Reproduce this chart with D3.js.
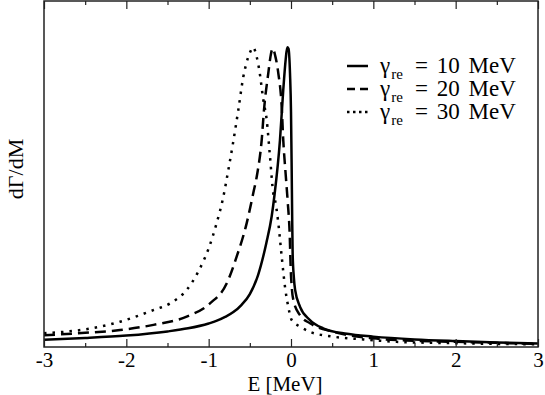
<!DOCTYPE html>
<html>
<head>
<meta charset="utf-8">
<script src="https://cdn.jsdelivr.net/npm/d3@7"></script>
<style>
  body { margin: 0; background: #fff; }
  svg { display: block; font-family: "Liberation Serif", "Times New Roman", serif; }
</style>
</head>
<body>
<div id="chart"></div>
<script>
// energy (MeV) and line shape (arb. units)
const eSolid = [-3, -2.5, -2, -1.5, -1.25, -1, -0.9, -0.8, -0.7, -0.6, -0.5, -0.4, -0.3, -0.235, -0.2, -0.134, -0.094, -0.065, -0.045, -0.03, -0.012, 0, 0.008, 0.014, 0.02, 0.035, 0.05, 0.11, 0.23, 0.39, 0.68, 1, 1.5, 2, 2.5, 3];
const vSolid = [0.021, 0.026, 0.033, 0.045, 0.054, 0.068, 0.076, 0.087, 0.101, 0.122, 0.153, 0.208, 0.3, 0.377, 0.44, 0.598, 0.743, 0.83, 0.866, 0.862, 0.79, 0.68, 0.52, 0.38, 0.27, 0.2, 0.165, 0.116, 0.078, 0.054, 0.038, 0.03, 0.022, 0.017, 0.013, 0.01];

const eDash = [-3, -2.5, -2.077, -1.67, -1.267, -0.984, -0.78, -0.66, -0.538, -0.458, -0.409, -0.356, -0.328, -0.276, -0.245, -0.223, -0.19, -0.154, -0.113, -0.094, -0.065, -0.04, -0.015, -0.004, 0.01, 0.028, 0.109, 0.231, 0.514, 1, 1.486, 2, 2.5, 3];
const vDash = [0.034, 0.041, 0.049, 0.064, 0.088, 0.126, 0.184, 0.261, 0.358, 0.445, 0.502, 0.598, 0.685, 0.791, 0.845, 0.863, 0.84, 0.791, 0.694, 0.598, 0.5, 0.42, 0.32, 0.23, 0.17, 0.136, 0.092, 0.0685, 0.044, 0.025, 0.018, 0.015, 0.012, 0.009];

const eDot = [-3, -2.5, -2.077, -1.67, -1.47, -1.267, -1.126, -1, -0.903, -0.822, -0.761, -0.708, -0.64, -0.579, -0.547, -0.5, -0.46, -0.417, -0.385, -0.336, -0.295, -0.255, -0.215, -0.194, -0.154, -0.113, -0.073, -0.033, 0.008, 0.109, 0.23, 0.51, 0.88, 1.28, 2, 2.5, 3];
const vDot = [0.04, 0.051, 0.073, 0.107, 0.126, 0.165, 0.218, 0.285, 0.358, 0.434, 0.512, 0.584, 0.685, 0.781, 0.815, 0.85, 0.866, 0.839, 0.8, 0.714, 0.656, 0.55, 0.444, 0.425, 0.358, 0.261, 0.174, 0.116, 0.078, 0.059, 0.044, 0.03, 0.022, 0.015, 0.011, 0.009, 0.008];

const seriesNames = ["10", "20", "30"];
const xTicks = [-3, -2, -1, 0, 1, 2, 3];
const xTickLabels = ["-3", "-2", "-1", "0", "1", "2", "3"];
const xMinorTicks = [-2.5, -1.5, -0.5, 0.5, 1.5, 2.5];

const W = 545, H = 395;
const mLeft = 44, mRight = 538, mTop = 1, mBottom = 347;
const serif = "'Liberation Serif', 'Times New Roman', serif";

const svg = d3.select("#chart").append("svg").attr("width", W).attr("height", H);

const x = d3.scaleLinear().domain([-3, 3]).range([mLeft, mRight]);
const y = d3.scaleLinear().domain([0, 1]).range([mBottom, mTop]);

svg.append("clipPath").attr("id", "clip")
  .append("rect").attr("x", mLeft).attr("y", mTop).attr("width", mRight - mLeft).attr("height", mBottom - mTop);

const dashes = [null, "11 6", "2.5 6"];

const curves = [
  d3.zip(eSolid, vSolid),
  d3.zip(eDash, vDash),
  d3.zip(eDot, vDot)
];

const line = d3.line().x(d => x(d[0])).y(d => y(d[1])).curve(d3.curveMonotoneX);

svg.append("g").attr("clip-path", "url(#clip)")
  .selectAll("path")
  .data(curves)
  .join("path")
  .attr("d", line)
  .attr("fill", "none")
  .attr("stroke", "#000")
  .attr("stroke-width", 2.5)
  .attr("stroke-dasharray", (d, i) => dashes[i]);

// bottom axis, ticks pointing inward
const fmt = d => xTickLabels[xTicks.indexOf(d)];
const gx = svg.append("g").attr("transform", `translate(0,${mBottom})`)
  .call(d3.axisBottom(x).tickValues(xTicks).tickFormat(fmt).tickSize(-8).tickSizeOuter(0).tickPadding(5));
gx.append("g").call(d3.axisBottom(x).tickValues(xMinorTicks).tickFormat("").tickSize(-4).tickSizeOuter(0));

const gt = svg.append("g").attr("transform", `translate(0,${mTop})`)
  .call(d3.axisTop(x).tickValues(xTicks).tickFormat("").tickSize(-8).tickSizeOuter(0));
gt.append("g").call(d3.axisTop(x).tickValues(xMinorTicks).tickFormat("").tickSize(-4).tickSizeOuter(0));

svg.selectAll(".domain").remove();
svg.selectAll(".tick line").attr("stroke", "#222").attr("stroke-width", 1.2);
gx.attr("font-family", null);
gx.selectAll("text").attr("fill", "#000")
  .style("font-family", serif).style("font-size", "21px");

svg.append("rect")
  .attr("x", mLeft).attr("y", mTop)
  .attr("width", mRight - mLeft).attr("height", mBottom - mTop)
  .attr("fill", "none").attr("stroke", "#222").attr("stroke-width", 1.5);

svg.append("text")
  .attr("x", 285).attr("y", 391)
  .attr("text-anchor", "middle").style("font-size", "21px")
  .text("E [MeV]");

svg.append("text")
  .attr("transform", `translate(23,169) rotate(-90)`)
  .attr("text-anchor", "middle").style("font-size", "22px")
  .text("dΓ/dM");

// legend
const legend = svg.append("g");
seriesNames.forEach((name, i) => {
  const ly = 66 + i * 23;
  legend.append("line")
    .attr("x1", 347).attr("x2", 368).attr("y1", ly).attr("y2", ly)
    .attr("stroke", "#000").attr("stroke-width", 2.5)
    .attr("stroke-dasharray", i === 1 ? "8 5" : i === 2 ? "2.5 3.5" : null);
  const t = legend.append("text").attr("x", 380).attr("y", ly + 7).style("font-size", "23px");
  t.append("tspan").text("γ");
  t.append("tspan").attr("dx", 1).attr("dy", 6).style("font-size", "15px").text("re");
  t.append("tspan").attr("x", 415).attr("dy", -6).attr("word-spacing", 3).text(`= ${name} MeV`);
});
</script>
</body>
</html>
